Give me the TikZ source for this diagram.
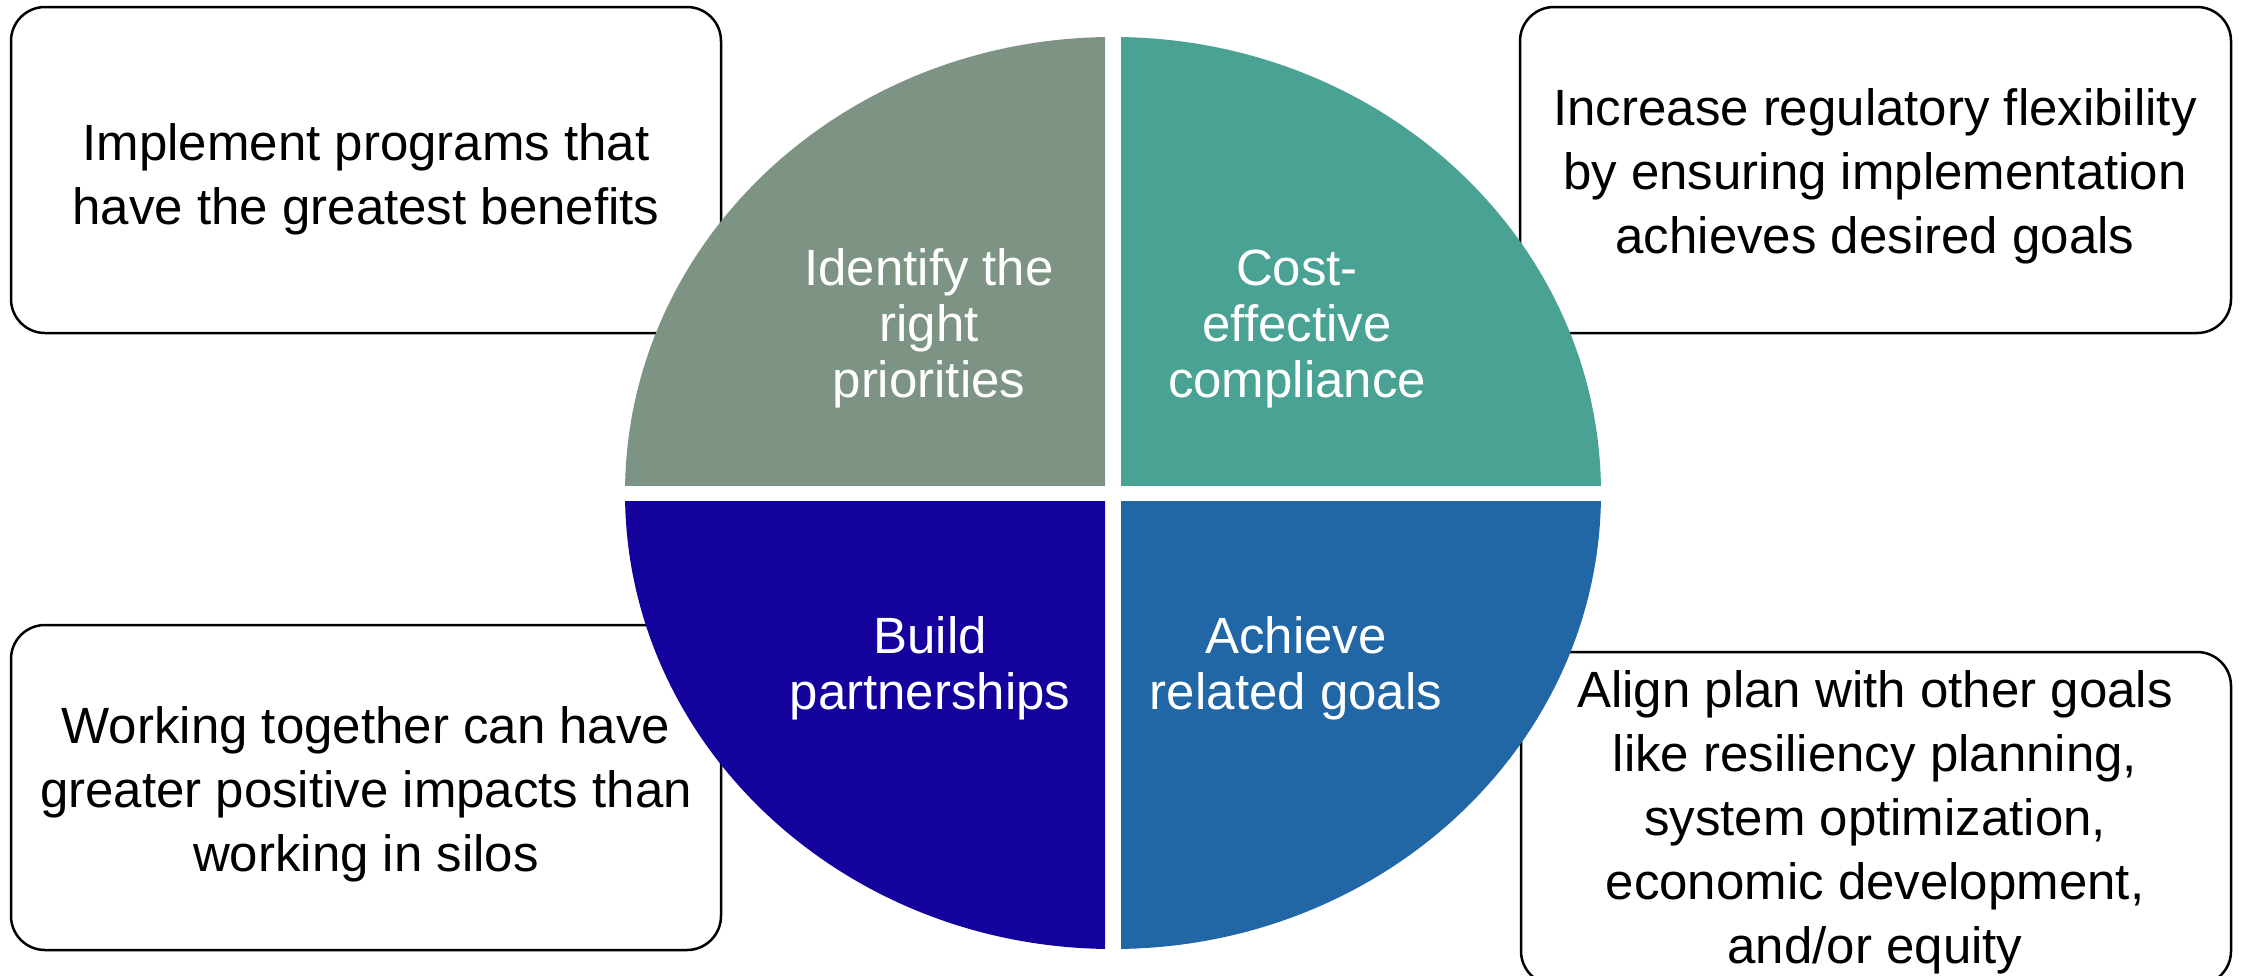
\documentclass[tikz,border=0pt]{standalone}
\usepackage{fontspec}
\setmainfont{Liberation Sans}

\definecolor{qsage}{HTML}{7D9484}
\definecolor{qteal}{HTML}{4AA294}
\definecolor{qindigo}{HTML}{13039C}
\definecolor{qblue}{HTML}{2166A5}

\tikzset{
  note/.style={draw=black, line width=2.5pt, rounded corners=34pt, fill=white},
  notetext/.style={anchor=base, inner sep=0pt, text=black},
  quadtext/.style={anchor=base, inner sep=0pt, text=white},
}
\newcommand{\notelines}[1]{\parbox[t]{800pt}{\centering\fontsize{51}{64}\selectfont #1}}
\newcommand{\quadlines}[1]{\parbox[t]{420pt}{\centering\fontsize{51}{56}\selectfont #1}}

\begin{document}
\begin{tikzpicture}[x=1pt, y=-1pt]
  \useasboundingbox (0,0) rectangle (2241,975);
  \clip (0,0) rectangle (2241,975);

  % outer note boxes
  \draw[note] (11,7) rectangle (721,333);
  \draw[note] (1520,7) rectangle (2231,333);
  \draw[note] (11,625) rectangle (721,950);
  \draw[note] (1521,652) rectangle (2231,985);

  % four quadrants of the central disc, separated by a white cross
  \coordinate (ctr) at (1113,493);
  \begin{scope}
    \clip (600,0) rectangle (1105,485);
    \fill[qsage] (ctr) ellipse [x radius=488, y radius=456];
  \end{scope}
  \begin{scope}
    \clip (1121,0) rectangle (1650,485);
    \fill[qteal] (ctr) ellipse [x radius=488, y radius=456];
  \end{scope}
  \begin{scope}
    \clip (600,501) rectangle (1105,975);
    \fill[qindigo] (ctr) ellipse [x radius=488, y radius=456];
  \end{scope}
  \begin{scope}
    \clip (1121,501) rectangle (1650,975);
    \fill[qblue] (ctr) ellipse [x radius=488, y radius=456];
  \end{scope}

  % quadrant labels
  \node[quadtext] (qtl) at (929,285) {\quadlines{Identify the\\right\\priorities}};
  \node[quadtext] (qtr) at (1297,285) {\quadlines{Cost-\\effective\\compliance}};
  \node[quadtext] (qbl) at (930,653) {\quadlines{Build\\partnerships}};
  \node[quadtext] (qbr) at (1296,653) {\quadlines{Achieve\\related goals}};

  % note texts
  \node[notetext] (ntl) at (366,160) {\notelines{Implement programs that\\have the greatest benefits}};
  \node[notetext] (ntr) at (1875,125) {\notelines{Increase regulatory flexibility\\by ensuring implementation\\achieves desired goals}};
  \node[notetext] (nbl) at (366,743) {\notelines{Working together can have\\greater positive impacts than\\working in silos}};
  \node[notetext] (nbr) at (1875,707) {\notelines{Align plan with other goals\\like resiliency planning,\\system optimization,\\economic development,\\and/or equity}};
\end{tikzpicture}
\end{document}
